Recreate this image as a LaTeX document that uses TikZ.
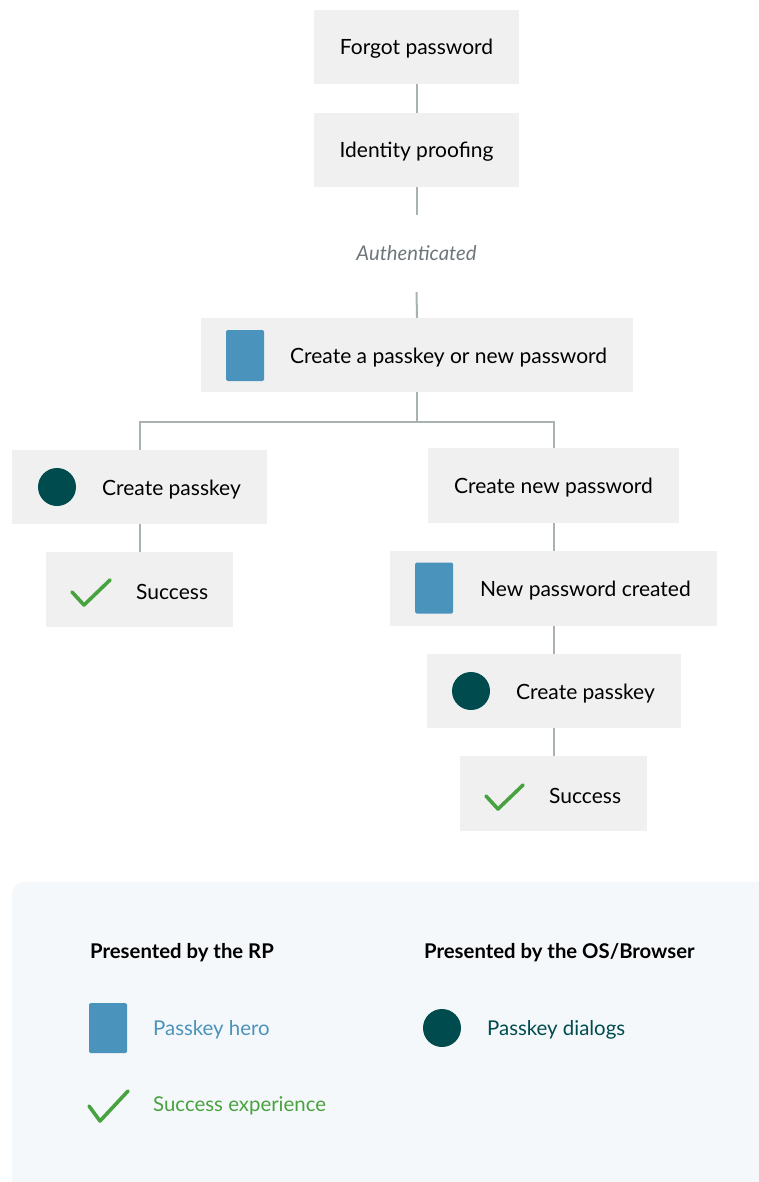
\documentclass[tikz,border=0pt]{standalone}
\usepackage{fontspec}
\setmainfont{Lato}
\definecolor{boxgray}{HTML}{F0F0F0}
\definecolor{linegray}{HTML}{A8B2AF}
\definecolor{heroblue}{HTML}{4A93BC}
\definecolor{dialogteal}{HTML}{004B4D}
\definecolor{okgreen}{HTML}{48A23F}
\definecolor{authgray}{HTML}{6E777B}
\definecolor{legendbg}{HTML}{F5F8FB}
\tikzset{
  stepbox/.style={fill=boxgray, draw=none, inner sep=0pt},
  label/.style={font=\fontsize{21}{24}\selectfont, text=black, inner sep=0pt, anchor=west},
  leglabel/.style={label, font=\fontsize{20.4}{24}\selectfont},
  conn/.style={draw=linegray, line width=2pt},
  hero/.style={fill=heroblue, draw=none, rounded corners=1.5pt, minimum width=38pt, minimum height=51pt, inner sep=0pt},
  dialog/.style={circle, fill=dialogteal, draw=none, minimum size=38pt, inner sep=0pt},
  tick/.style={draw=okgreen, line width=3.6pt, line cap=round, line join=round},
}
\begin{document}
\begin{tikzpicture}[x=1pt,y=-1pt]
\useasboundingbox (0,0) rectangle (759,1182);
% flow boxes
\node[stepbox, minimum width=205pt, minimum height=74pt] (fp) at (416.5,47) {};
\node[label, anchor=center] (fpt) at (416.5,49) {Forgot password};
\node[stepbox, minimum width=205pt, minimum height=74pt] (ip) at (416.5,150) {};
\node[label, anchor=center] (ipt) at (416.5,152) {Identity proofing};
\node[minimum height=77pt, inner sep=0pt, font=\itshape\fontsize{20.3}{24}\selectfont, text=authgray] (auth) at (416.5,253.5) {Authenticated};
\node[stepbox, minimum width=432pt, minimum height=74pt] (cp) at (417,355) {};
\node[hero] (cph) at (245,355.5) {};
\node[label] (cpt) at (290,358) {Create a passkey or new password};
\coordinate (br) at (417,422);
% left branch
\node[stepbox, minimum width=255pt, minimum height=74pt] (lcp) at (139.5,487) {};
\node[dialog] (lcpd) at (57,487) {};
\node[label] (lcpt) at (102,490) {Create passkey};
\node[stepbox, minimum width=187pt, minimum height=75pt] (ls) at (139.5,589.5) {};
\draw[tick] (72,592) -- (84,605) -- (110,580);
\node[label] (lst) at (136,592) {Success};
% right branch
\node[stepbox, minimum width=251pt, minimum height=75pt] (cnp) at (553.5,485.5) {};
\node[label, anchor=center] (cnpt) at (553.5,488) {Create new password};
\node[stepbox, minimum width=327pt, minimum height=75pt] (npc) at (553.5,588.5) {};
\node[hero] (npch) at (434,588) {};
\node[label] (npct) at (480,591) {New password created};
\node[stepbox, minimum width=254pt, minimum height=74pt] (rcp) at (553.5,691) {};
\node[dialog] (rcpd) at (471,691) {};
\node[label] (rcpt) at (516,694) {Create passkey};
\node[stepbox, minimum width=187pt, minimum height=75pt] (rs) at (553.5,793.5) {};
\draw[tick] (486,796) -- (498,809) -- (523,785);
\node[label] (rst) at (549,796) {Success};
% connectors
\draw[conn] (fp.south) -- (ip.north);
\draw[conn] (ip.south) -- (auth.north);
\draw[conn] (auth.south) -- (cp.north);
\draw[conn] (cp.south) -- (br);
\draw[conn] (br) -| (lcp.north);
\draw[conn] (br) -| (cnp.north);
\draw[conn] (lcp.south) -- (ls.north);
\draw[conn] (cnp.south) -- (npc.north);
\draw[conn] (npc.south) -- (rcp.north);
\draw[conn] (rcp.south) -- (rs.north);
% legend
\fill[legendbg, rounded corners=12pt] (12,882) rectangle (775,1200);
\node[label, font=\bfseries\fontsize{20.3}{24}\selectfont] (lgrp) at (90,953) {Presented by the RP};
\node[label, font=\bfseries\fontsize{20.3}{24}\selectfont] (lgos) at (424,953) {Presented by the OS/Browser};
\node[hero, minimum height=50pt] (lgh) at (108,1028) {};
\node[leglabel, text=heroblue] (lght) at (153,1030) {Passkey hero};
\node[dialog] (lgd) at (442,1028) {};
\node[leglabel, text=dialogteal] (lgdt) at (487,1030) {Passkey dialogs};
\draw[tick] (89,1106) -- (100,1121) -- (128,1091);
\node[leglabel, text=okgreen] (lgst) at (153,1106) {Success experience};
\end{tikzpicture}
\end{document}
